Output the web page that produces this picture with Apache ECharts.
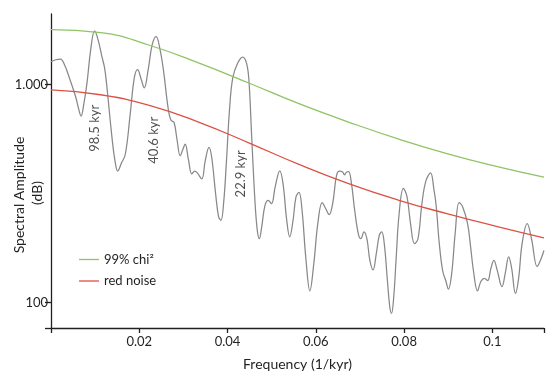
<!DOCTYPE html>
<html><head><meta charset="utf-8">
<script src="https://cdn.jsdelivr.net/npm/echarts@6/dist/echarts.min.js"></script>
<style>html,body{margin:0;padding:0;background:#fff}#c{width:547px;height:376px}</style>
</head><body><div id="c"></div>
<script>
// Spectrum (frequency in 1/kyr, amplitude)
const freq = [
0, 0.00112, 0.00213, 0.00315, 0.00404, 0.00555, 0.00629, 0.00681, 0.00742, 0.00816,
0.00899, 0.00989, 0.01067, 0.01153, 0.01213, 0.01265, 0.01378, 0.0145, 0.01512, 0.01596,
0.01685, 0.01798, 0.01888, 0.01962, 0.02045, 0.02112, 0.02202, 0.02292, 0.02382, 0.02472,
0.02546, 0.02658, 0.02719, 0.02787, 0.02854, 0.02928, 0.02989, 0.0304, 0.03112, 0.03191,
0.03258, 0.03315, 0.03416, 0.03494, 0.0358, 0.0364, 0.0373, 0.03798, 0.03849, 0.0391,
0.03978, 0.04045, 0.04119, 0.04231, 0.04344, 0.04427, 0.04483, 0.04546, 0.04622, 0.04674,
0.04719, 0.04775, 0.04847, 0.04921, 0.04996, 0.05079, 0.05184, 0.05258, 0.05337, 0.05409,
0.05483, 0.05551, 0.05618, 0.05685, 0.05775, 0.05865, 0.05955, 0.06045, 0.06146, 0.06225,
0.06303, 0.06382, 0.06472, 0.06539, 0.06607, 0.06652, 0.06697, 0.06742, 0.06809, 0.06876,
0.06966, 0.07022, 0.0709, 0.07157, 0.07225, 0.07297, 0.07371, 0.07438, 0.07494, 0.07551,
0.07618, 0.07674, 0.07715, 0.07764, 0.0782, 0.07888, 0.07984, 0.08067, 0.08146, 0.08236,
0.08315, 0.08404, 0.08494, 0.086, 0.08674, 0.08726, 0.08798, 0.08876, 0.08944, 0.09004,
0.09079, 0.09157, 0.09247, 0.09326, 0.09438, 0.09506, 0.09573, 0.09663, 0.09742, 0.0982,
0.09894, 0.09966, 0.10034, 0.10112, 0.10218, 0.10292, 0.1037, 0.10438, 0.10523, 0.10595,
0.10674, 0.1079, 0.10887, 0.11016, 0.1109, 0.11169
];
const amp = [
1273, 1300, 1310, 1221, 1091, 884, 769, 717, 811, 1018,
1444, 1763, 1604, 1346, 1195, 982, 581, 446, 401, 436,
480, 743, 1076, 1171, 1054, 966, 1171, 1522, 1661, 1444,
1171, 769, 685, 671, 561, 471, 505, 533, 455, 389,
401, 393, 369, 446, 515, 465, 315, 247, 238, 284,
455, 769, 1076, 1256, 1338, 1260, 1054, 581, 290, 214,
196, 223, 278, 294, 284, 339, 402, 350, 242, 200,
237, 305, 320, 269, 159, 113, 151, 230, 287, 269,
253, 284, 385, 401, 397, 385, 397, 398, 350, 269,
205, 196, 211, 196, 156, 141, 168, 203, 211, 186,
129, 96, 89, 105, 159, 256, 334, 305, 230, 186,
196, 284, 361, 393, 332, 279, 186, 139, 126, 115,
136, 207, 287, 275, 230, 181, 139, 113, 125, 129,
126, 143, 156, 140, 118, 136, 162, 143, 110, 129,
186, 230, 196, 146, 156, 173
];
// 99% chi-square significance level
const chiFreq = [0, 0.01124, 0.02247, 0.03371, 0.04494, 0.05618, 0.06742, 0.07865, 0.08989, 0.10112, 0.11169];
const chiAmp  = [1787, 1732, 1511, 1251, 1014, 817, 673, 563, 481, 420, 376];
// red noise
const redFreq = [0, 0.01124, 0.02247, 0.03371, 0.04494, 0.05618, 0.06742, 0.07865, 0.08989, 0.10112, 0.11169];
const redAmp  = [946, 898, 800, 669, 539, 430, 351, 295, 255, 223, 198];
// annotations
const annoText = ['98.5 kyr', '40.6 kyr', '22.9 kyr'];
const annoFreq = [0.00989, 0.02337, 0.04292];
const annoAmp  = [630, 555, 389];
// axes
const xTickValues = [0.02, 0.04, 0.06, 0.08, 0.1];
const yTickLabels = [[100, '100'], [1000, '1.000']];
const xRange = [0, 0.1117];
const yRange = [76.3, 2108];

const FONT = 'Lato';
const INK = '#231f20';
const chart = echarts.init(document.getElementById('c'), null, {renderer: 'canvas'});
const pair = (xs, ys) => xs.map((x, i) => [x, ys[i]]);

chart.setOption({
  animation: false,
  backgroundColor: '#fff',
  grid: {left: 51, right: 0, top: 14, bottom: 46},
  xAxis: {
    type: 'value', min: xRange[0], max: xRange[1], interval: 0.02,
    splitLine: {show: false},
    axisLine: {show: true, lineStyle: {color: INK, width: 1.3}},
    axisTick: {show: true, length: 5, lineStyle: {color: INK, width: 1.3}},
    axisLabel: {
      margin: 7, fontSize: 13, fontFamily: FONT, color: INK,
      formatter: v => {
        const hit = xTickValues.find(t => Math.abs(t - v) < 1e-6);
        return hit === undefined ? '' : String(hit);
      }
    },
    name: 'Frequency (1/kyr)', nameLocation: 'middle', nameGap: 29,
    nameTextStyle: {fontSize: 14, fontFamily: FONT, color: INK}
  },
  yAxis: {
    type: 'log', logBase: 10, min: yRange[0], max: yRange[1],
    splitLine: {show: false},
    axisLine: {show: true, lineStyle: {color: INK, width: 1.3}},
    axisTick: {show: true, length: 6, lineStyle: {color: INK, width: 1.3},
               customValues: [yRange[0], 100, 1000]},
    minorTick: {show: false},
    axisLabel: {
      margin: 3, fontSize: 13, fontFamily: FONT, color: INK,
      customValues: [100, 1000],
      formatter: v => {
        const hit = yTickLabels.find(t => Math.abs(t[0] - v) / t[0] < 1e-3);
        return hit ? hit[1] : '';
      }
    }
  },
  legend: {
    data: ['99% chi²', 'red noise'],
    orient: 'vertical', left: 74, top: 248,
    icon: 'rect', itemWidth: 20, itemHeight: 1.3, itemGap: 8.5,
    textStyle: {fontSize: 13, fontFamily: FONT, color: INK}
  },
  graphic: [
    {type: 'text', x: 19, y: 195, rotation: Math.PI / 2,
     style: {text: 'Spectral Amplitude', fontSize: 14, fontFamily: FONT, fill: INK, align: 'center', verticalAlign: 'middle'}},
    {type: 'text', x: 37, y: 193, rotation: Math.PI / 2,
     style: {text: '(dB)', fontSize: 14, fontFamily: FONT, fill: INK, align: 'center', verticalAlign: 'middle'}}
  ],
  series: [
    {
      type: 'line', name: 'spectrum', data: pair(freq, amp),
      showSymbol: false, smooth: 0.4, silent: true,
      color: '#888888', lineStyle: {color: '#888888', width: 1.25}, z: 2
    },
    {
      type: 'line', name: '99% chi²', data: pair(chiFreq, chiAmp),
      showSymbol: false, smooth: true, silent: true,
      color: '#8fc465', lineStyle: {color: '#8fc465', width: 1.3}, z: 3
    },
    {
      type: 'line', name: 'red noise', data: pair(redFreq, redAmp),
      showSymbol: false, smooth: true, silent: true,
      color: '#dd5145', lineStyle: {color: '#dd5145', width: 1.3}, z: 3
    },
    {
      type: 'scatter', name: 'annotations', silent: true,
      data: annoText.map((t, i) => ({name: t, value: [annoFreq[i], annoAmp[i]]})),
      symbolSize: 0, itemStyle: {color: 'rgba(0,0,0,0)'},
      label: {show: true, position: 'inside', rotate: 90, formatter: p => p.name,
              fontSize: 13, fontFamily: FONT, color: INK}, z: 4
    }
  ]
});
</script>
</body></html>
